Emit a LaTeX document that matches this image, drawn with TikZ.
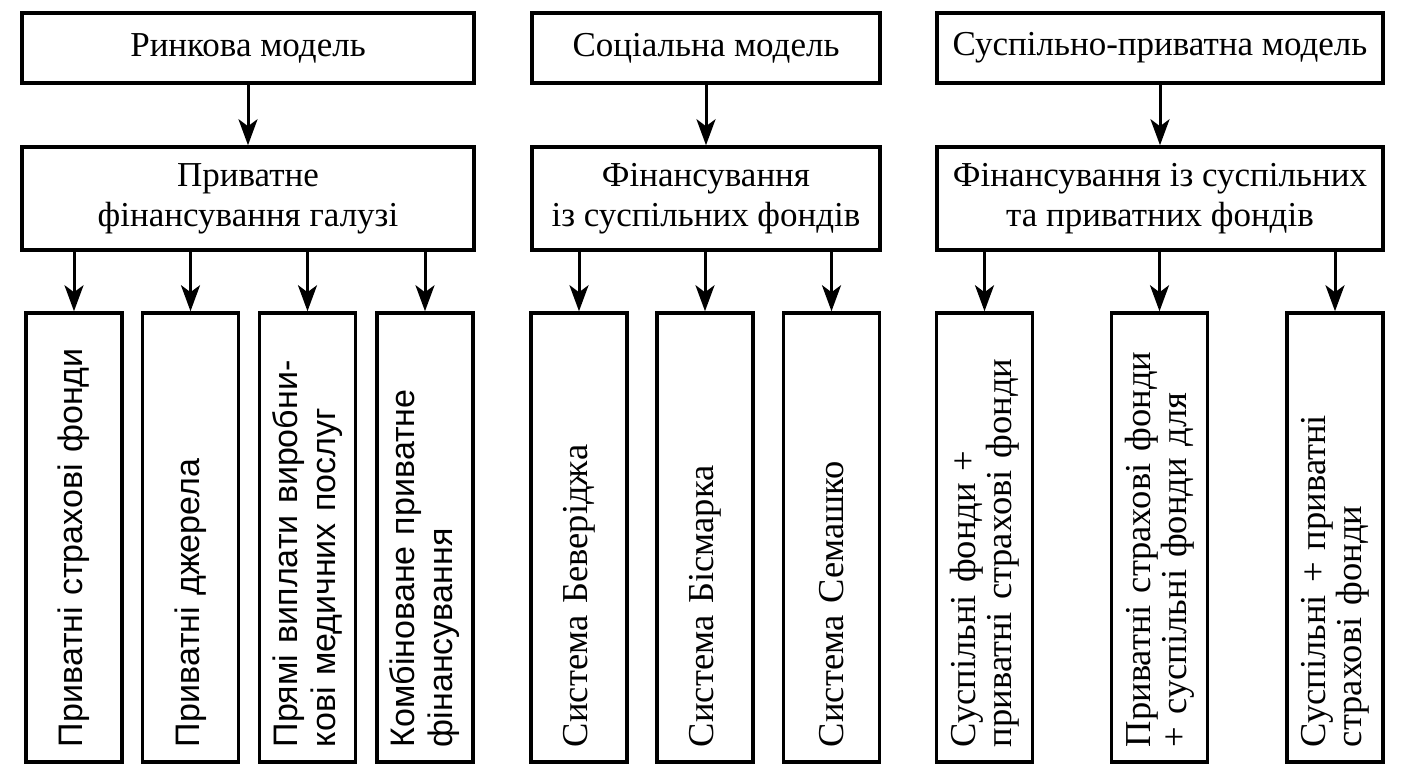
\documentclass[tikz,border=0pt]{standalone}
\usepackage{fontspec}
\setmainfont{Liberation Serif}
\newfontfamily\arialfont{Liberation Sans}
\usetikzlibrary{arrows.meta}
\begin{document}
\begin{tikzpicture}[x=1pt,y=-1pt,
  box/.style={draw,line width=3.5pt,inner sep=0pt,align=center,font=\fontsize{35}{40}\selectfont},
  topbox/.style={box,minimum height=70pt},
  midbox/.style={box,minimum height=103pt},
  vbox/.style={draw,line width=3.5pt,inner sep=0pt,rotate=90,minimum width=449pt,minimum height=96pt,text width=419pt,align=left},
  vsans/.style={vbox,font=\arialfont\fontsize{34}{38}\selectfont},
  vserif/.style={vbox,font=\fontsize{36.5}{36}\selectfont},
  arr/.style={line width=3pt,-{Stealth[length=26pt,width=19pt,inset=7pt]}}]
\useasboundingbox (0,0) rectangle (1406,784);
% top
\node[topbox,minimum width=452pt] (t1) at (248,48) {Ринкова модель};
\node[topbox,minimum width=348pt] (t2) at (706,48) {Соціальна модель};
\node[topbox,minimum width=446pt] (t3) at (1160,48) {Суспільно-приватна модель};
% middle
\node[midbox,minimum width=452pt] (m1) at (248,198.5) {Приватне\\фінансування галузі};
\node[midbox,minimum width=348pt] (m2) at (706,198.5) {Фінансування\\із суспільних фондів};
\node[midbox,minimum width=446pt] (m3) at (1160,198.5) {Фінансування із суспільних\\та приватних фондів};
% bottom
\node[vsans] (b1) at (74,537.5) {Приватні страхові фонди};
\node[vsans] (b2) at (190.5,537.5) {Приватні джерела};
\node[vsans] (b3) at (307.5,537.5) {Прямі виплати виробни-\\кові медичних послуг};
\node[vsans] (b4) at (425,537.5) {Комбіноване приватне\\фінансування};
\node[vserif] (b5) at (579,537.5) {Система Беверіджа};
\node[vserif] (b6) at (705,537.5) {Система Бісмарка};
\node[vserif] (b7) at (831.5,537.5) {Система Семашко};
\node[vserif] (b8) at (984.5,537.5) {Суспільні фонди +\\приватні страхові фонди};
\node[vserif] (b9) at (1159.5,537.5) {Приватні страхові фонди\\+ суспільні фонди для};
\node[vserif] (b10) at (1335,537.5) {Суспільні + приватні\\страхові фонди};
% arrows
\draw[arr] (t1) -- (m1);
\draw[arr] (t2) -- (m2);
\draw[arr] (t3) -- (m3);
\foreach \b in {b1,b2,b3,b4} \draw[arr] (m1.south -| \b.east) -- (\b.east);
\foreach \b in {b5,b6,b7} \draw[arr] (m2.south -| \b.east) -- (\b.east);
\foreach \b in {b8,b9,b10} \draw[arr] (m3.south -| \b.east) -- (\b.east);
\end{tikzpicture}
\end{document}
